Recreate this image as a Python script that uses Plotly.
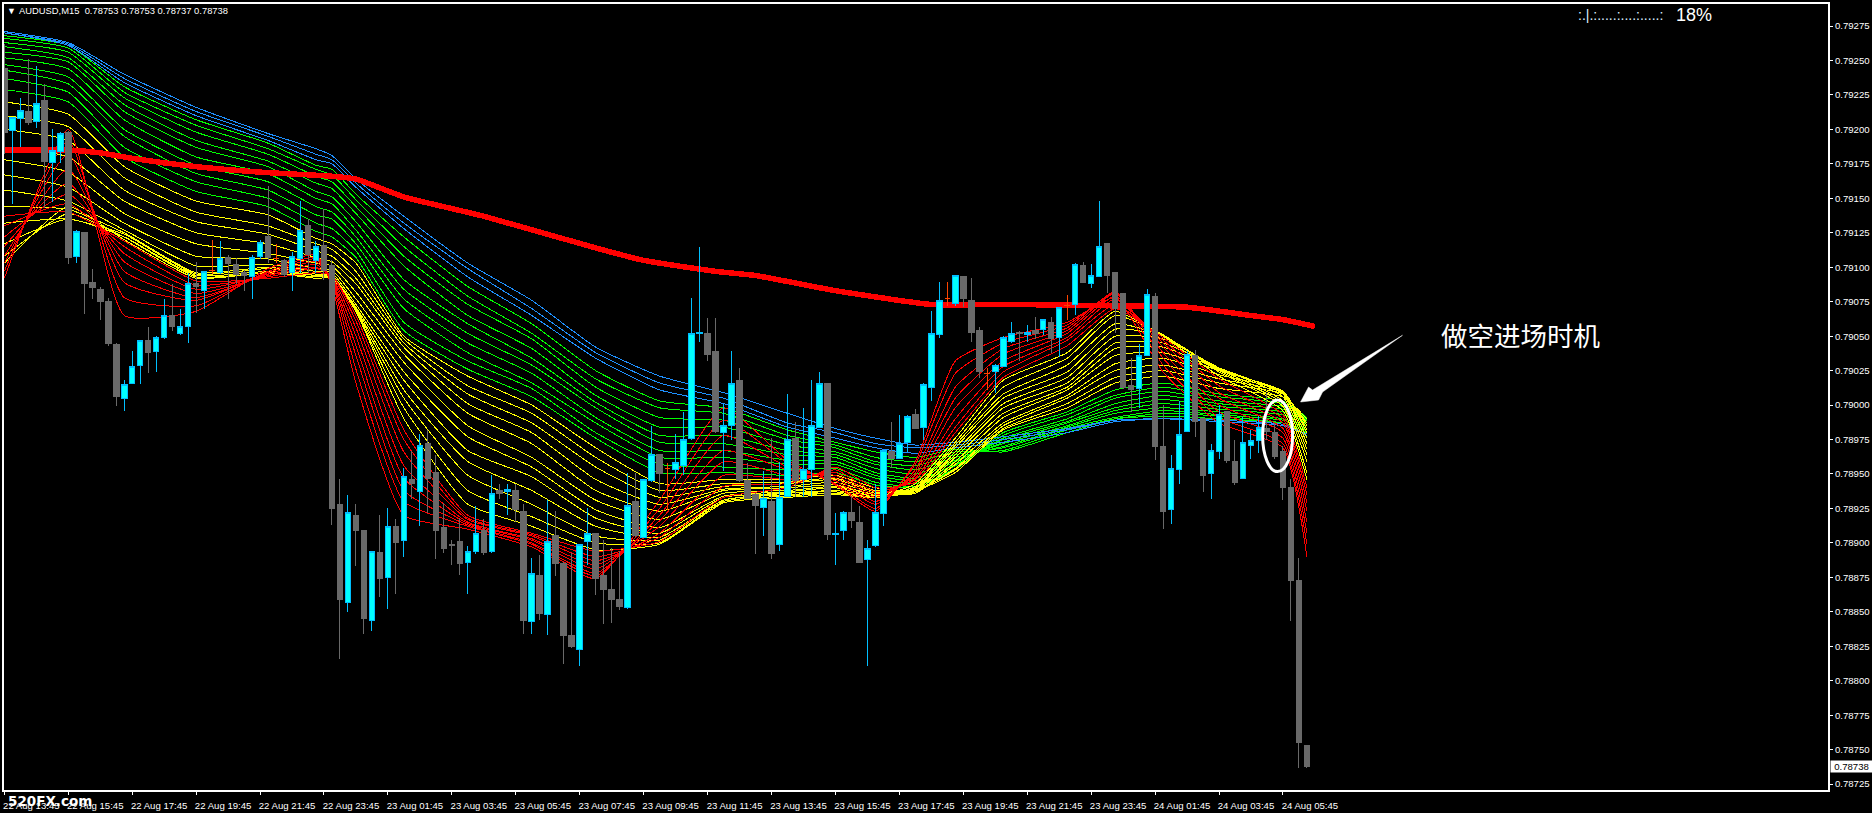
import plotly.graph_objects as go

# Price readings in points (1 point = 0.00001)
HIGH = [79262,79209,79223,79251,79246,79233,79200,79198,79199,79127,79125,79099,79086,79078,79045,79018,79039,79047,79057,79050,
79077,79088,79070,79096,79104,79097,79120,79119,79109,79107,79098,79109,79120,79159,79117,79106,79111,79148,79135,79119,
79142,79105,78946,78935,78928,78909,78894,78920,78925,78917,78954,78967,78979,78982,78964,78929,78902,78918,78898,78927,
78917,78949,78943,78943,78943,78928,78889,78891,78931,78923,78886,78893,78899,78925,78907,78902,78896,78894,78951,78951,
78946,78985,78964,78958,78979,78995,79078,79115,79063,79063,79001,79039,79027,78958,78936,78952,78976,78959,79008,78988,
78998,79018,79024,79016,78922,78923,78934,78927,78902,78943,78967,78988,78993,78993,78997,79016,79068,79089,79089,79094,
79094,79092,79057,79027,79030,79050,79060,79054,79058,79064,79062,79064,79071,79080,79103,79104,79102,79148,79117,79096,
79081,79034,79044,79084,79081,79000,78964,79003,79039,79040,78990,78972,79000,78995,78975,78991,78982,78992,79009,78987,
78970,78946,78889,78753]
OPEN = [79244,79199,79208,79213,79206,79221,79176,79184,79198,79108,79125,79089,79084,79075,79044,79005,79016,79029,79047,79039,
79049,79065,79052,79057,79088,79083,79098,79096,79107,79102,79096,79093,79108,79122,79106,79105,79096,79106,79130,79105,
79116,79101,78928,78857,78920,78909,78844,78893,78875,78912,78902,78946,78937,78972,78951,78911,78899,78901,78886,78894,
78909,78894,78938,78937,78938,78923,78843,78876,78848,78905,78885,78833,78823,78901,78907,78876,78866,78859,78853,78930,
78904,78945,78964,78954,78953,78956,78976,79052,79052,79039,78980,78985,79018,78945,78935,78926,78930,78899,78934,78976,
78946,78953,78984,79016,78906,78909,78922,78915,78888,78898,78921,78966,78961,78973,78993,78984,79013,79051,79077,79074,
79093,79076,79054,79023,79024,79028,79046,79053,79051,79054,79055,79060,79049,79072,79073,79101,79088,79093,79117,79096,
79081,79014,79012,79036,79079,78970,78924,78953,78981,79036,78990,78950,78966,78995,78959,78947,78971,78974,78983,78980,
78966,78940,78873,78753]
CLOSE = [79198,79209,79214,79205,79219,79177,79185,79197,79107,79126,79088,79085,79075,79045,79006,79015,79028,79047,79038,79049,
79065,79057,79057,79088,79086,79097,79098,79106,79103,79095,79094,79107,79118,79107,79106,79095,79108,79127,79109,79115,
79098,78925,78859,78922,78909,78845,78894,78874,78912,78900,78948,78943,78971,78947,78909,78896,78898,78885,78894,78907,
78893,78936,78936,78939,78924,78844,78878,78849,78901,78885,78833,78825,78899,78907,78874,78866,78859,78854,78927,78905,
78946,78964,78950,78954,78958,78975,79052,79053,79037,78981,78985,79016,78945,78932,78927,78932,78892,78933,78975,78945,
78953,78985,79016,78906,78907,78922,78916,78886,78896,78922,78967,78961,78972,78992,78983,79015,79052,79076,79077,79094,
79077,79053,79024,79023,79029,79049,79052,79052,79053,79052,79062,79048,79071,79072,79102,79089,79094,79115,79094,79070,
79013,79011,79036,79080,78970,78923,78954,78979,79037,78988,78949,78967,78993,78960,78944,78973,78974,78984,78981,78963,
78940,78873,78755,78738]
LOW = [79182,79146,79187,79203,79201,79143,79147,79176,79102,79103,79066,79077,79062,79043,78999,78996,79015,79015,79023,79024,
79048,79054,79051,79045,79067,79070,79095,79095,79077,79088,79083,79077,79106,79103,79103,79093,79083,79096,79096,79096,
79091,78913,78816,78850,78883,78834,78836,78861,78852,78863,78890,78932,78912,78922,78888,78893,78884,78877,78863,78892,
78891,78893,78932,78920,78915,78834,78834,78844,78833,78876,78812,78824,78811,78884,78862,78841,78842,78851,78852,78904,
78904,78944,78936,78924,78946,78949,78975,79046,79032,78980,78952,78975,78944,78932,78892,78905,78888,78894,78934,78933,
78933,78933,78983,78902,78884,78902,78911,78886,78811,78897,78912,78954,78961,78966,78983,78975,79003,79049,79072,79072,
79071,79046,79020,79011,79009,79028,79045,79032,79046,79048,79051,79038,79035,79062,79065,79089,79085,79093,79081,79052,
79012,78995,78998,79036,78960,78910,78914,78943,78981,78977,78937,78932,78961,78958,78942,78947,78961,78965,78975,78961,
78931,78843,78737,78737]

RIBBON_BARS = [0,8,15,24,33,39,41,44,50,58,66,74,82,90,98,104,109,114,119,125,133,139,145,152,160,163]
GREEN_LINES = [
[79229,79220,79180,79155,79144,79126,79122,79107,79054,79026,79006,78976,78951,78951,78949,78951,78942,78940,78953,78980,78995,79011,79016,79008,79003,78991],
[79237,79227,79187,79162,79150,79132,79128,79112,79060,79032,79012,78980,78957,78955,78953,78954,78944,78941,78954,78978,78993,79007,79013,79006,79001,78990],
[79243,79233,79195,79168,79156,79138,79135,79117,79070,79038,79016,78987,78962,78962,78957,78957,78947,78943,78956,78976,78990,79005,79010,79003,78999,78990],
[79247,79238,79200,79174,79162,79144,79140,79122,79077,79045,79023,78991,78967,78967,78960,78959,78949,78945,78957,78975,78988,79001,79007,79001,78997,78989],
[79252,79244,79207,79180,79168,79150,79146,79127,79084,79052,79029,78998,78973,78972,78964,78962,78951,78947,78959,78973,78987,78998,79004,78999,78995,78987],
[79256,79249,79213,79187,79173,79155,79151,79133,79091,79059,79034,79002,78978,78978,78967,78964,78954,78950,78960,78972,78985,78996,79001,78997,78993,78986],
[79260,79252,79218,79192,79177,79161,79157,79139,79101,79065,79041,79007,78984,78984,78971,78966,78957,78953,78962,78970,78984,78994,78998,78995,78990,78985],
[79263,79256,79223,79198,79182,79166,79162,79144,79108,79073,79048,79013,78991,78989,78975,78969,78959,78956,78964,78969,78983,78991,78996,78993,78989,78983],
[79266,79259,79227,79203,79186,79171,79167,79149,79115,79079,79052,79019,78998,78994,78978,78971,78962,78959,78966,78967,78982,78990,78994,78992,78987,78982],
[79268,79261,79231,79207,79190,79174,79171,79153,79122,79086,79059,79025,79003,78998,78982,78973,78966,78962,78968,78966,78980,78990,78992,78990,78987,78980],
]
BLUE_LINES = [
[79270,79261,79234,79210,79192,79178,79175,79158,79128,79093,79065,79034,79011,79001,78984,78976,78969,78965,78969,78973,78980,78988,78990,78988,78985,78979],
[79270,79262,79237,79213,79195,79182,79178,79161,79132,79099,79070,79038,79016,79005,78987,78980,78972,78969,78971,78975,78982,78989,78990,78989,78986,78979],
[79271,79263,79240,79216,79197,79186,79181,79164,79137,79103,79076,79042,79021,79009,78994,78983,78976,78971,78973,78977,78983,78989,78990,78989,78986,78978],
]
YELLOW_LINES = [
[79103,79144,79120,79092,79096,79092,79092,79068,78990,78928,78912,78895,78899,78929,78933,78935,78933,78943,78976,79018,79038,79068,79050,79021,78996,78946],
[79108,79139,79122,79093,79096,79093,79093,79068,78998,78938,78919,78900,78900,78930,78934,78936,78933,78941,78973,79013,79034,79065,79051,79024,78999,78951],
[79117,79135,79122,79094,79097,79094,79093,79069,79005,78949,78928,78905,78902,78931,78935,78936,78933,78940,78971,79008,79029,79059,79050,79025,79001,78959],
[79132,79135,79124,79095,79099,79094,79094,79070,79011,78959,78938,78912,78904,78931,78936,78937,78933,78939,78969,79005,79024,79055,79050,79026,79003,78964],
[79144,79142,79125,79096,79100,79095,79094,79071,79018,78967,78948,78918,78907,78933,78936,78938,78934,78938,78966,79001,79020,79050,79048,79027,79006,78968],
[79156,79148,79127,79101,79102,79097,79096,79073,79024,78977,78955,78924,78911,78934,78937,78940,78934,78938,78964,78998,79016,79045,79045,79027,79008,78972],
[79167,79158,79132,79108,79106,79099,79098,79077,79031,78985,78962,78931,78917,78936,78938,78941,78935,78937,78962,78994,79013,79041,79042,79026,79009,78976],
[79178,79169,79139,79117,79110,79103,79101,79082,79037,78994,78972,78938,78923,78938,78940,78942,78935,78936,78959,78991,79011,79036,79038,79025,79010,78980],
[79187,79180,79148,79125,79117,79107,79104,79088,79042,79001,78980,78946,78928,78939,78941,78944,78936,78936,78957,78987,79007,79030,79034,79022,79010,78982],
[79200,79192,79156,79133,79124,79112,79108,79092,79045,79008,78987,78955,78933,78941,78943,78946,78937,78937,78954,78985,79005,79025,79029,79019,79009,78985],
[79210,79202,79165,79140,79130,79117,79113,79097,79048,79014,78994,78962,78938,78943,78944,78947,78938,78938,78953,78983,79001,79020,79025,79016,79008,78987],
[79220,79211,79173,79148,79138,79121,79117,79103,79050,79021,79000,78969,78943,78946,78946,78949,78940,78938,78951,78982,78998,79016,79021,79012,79006,78990],
]
RED_LINES = [
[79092,79200,79065,79068,79099,79109,79086,79016,78920,78910,78897,78874,78931,78998,78960,78942,78923,78959,79032,79049,79060,79078,79024,78987,78969,78890],
[79097,79192,79078,79072,79097,79107,79089,79026,78930,78912,78899,78876,78925,78989,78958,78943,78925,78957,79023,79045,79058,79081,79029,78991,78972,78899],
[79103,79182,79089,79076,79096,79106,79090,79036,78938,78913,78900,78878,78920,78978,78955,78945,78928,78953,79013,79041,79056,79082,79034,78995,78976,78907],
[79108,79171,79097,79078,79095,79104,79091,79043,78947,78914,78902,78881,78916,78967,78953,78947,78930,78951,79005,79037,79054,79081,79038,79000,78980,78915],
[79115,79161,79104,79081,79094,79102,79092,79050,78956,78915,78903,78884,78912,78959,78949,78949,78933,78949,78998,79032,79052,79079,79042,79005,78983,78923],
[79122,79153,79110,79084,79094,79100,79093,79056,78966,78917,78905,78887,78907,78949,78946,78951,78935,78947,78990,79028,79049,79077,79045,79009,78987,78929],
[79130,79146,79115,79087,79093,79099,79094,79061,78975,78918,78906,78890,78904,78941,78943,78953,78937,78946,78984,79024,79047,79073,79047,79014,78990,78935],
[79137,79140,79119,79090,79092,79096,79094,79065,78982,78920,78907,78894,78901,78933,78940,78955,78940,78944,78980,79020,79043,79070,79049,79019,78993,78940],
]
SLOW_MA_BARS = [0,8,12,16,24,32,41,44,50,60,74,80,89,94,104,116,126,139,148,156,160,164]
SLOW_MA = [79185,79185,79183,79179,79173,79169,79166,79164,79151,79137,79114,79105,79097,79094,79083,79073,79073,79072,79071,79065,79062,79057]

TICK_BARS = list(range(0, 161, 8))
TICK_LABELS = ["22 Aug 13:45","22 Aug 15:45","22 Aug 17:45","22 Aug 19:45","22 Aug 21:45","22 Aug 23:45","23 Aug 01:45",
"23 Aug 03:45","23 Aug 05:45","23 Aug 07:45","23 Aug 09:45","23 Aug 11:45","23 Aug 13:45","23 Aug 15:45","23 Aug 17:45",
"23 Aug 19:45","23 Aug 21:45","23 Aug 23:45","24 Aug 01:45","24 Aug 03:45","24 Aug 05:45"]

W, H = 1872, 813
L, R, T, B = 2, 1828, 2, 792
XRANGE = [(L - 2.33) / 8, (R - 2.33) / 8]
YRANGE = [0.787207, 0.79291]
UI = "Liberation Sans"

def px(v):
    return (v - L) / (R - L)
def py(v):
    return (B - v) / (B - T)

fig = go.Figure()
def price(a):
    return [v / 1e5 for v in a]

for group, color in ((GREEN_LINES, "#00FF00"), (BLUE_LINES, "#1E90FF"), (YELLOW_LINES, "#FFFF00"), (RED_LINES, "#FF0000")):
    for line in group:
        fig.add_trace(go.Scatter(x=RIBBON_BARS, y=price(line), mode="lines", hoverinfo="skip",
                                 line=dict(color=color, width=1, shape="spline", smoothing=0.5)))
fig.add_trace(go.Scatter(x=SLOW_MA_BARS, y=price(SLOW_MA), mode="lines", hoverinfo="skip",
                         line=dict(color="#FF0000", width=5.5, shape="spline", smoothing=0.5)))

body = [i for i in range(len(OPEN)) if OPEN[i] != CLOSE[i]]
doji = [i for i in range(len(OPEN)) if OPEN[i] == CLOSE[i]]
def pick(a, idx):
    return [a[i] / 1e5 for i in idx]

fig.add_trace(go.Candlestick(x=body, open=pick(OPEN, body), high=pick(HIGH, body), low=pick(LOW, body), close=pick(CLOSE, body),
    xaxis="x2", yaxis="y2", whiskerwidth=0,
    increasing=dict(line=dict(color="#00BFFF", width=1), fillcolor="#00FFFF"),
    decreasing=dict(line=dict(color="#696969", width=1), fillcolor="#696969")))
fig.add_trace(go.Candlestick(x=doji, open=pick(OPEN, doji), high=pick(HIGH, doji), low=pick(LOW, doji), close=pick(CLOSE, doji),
    xaxis="x2", yaxis="y2", whiskerwidth=0,
    increasing=dict(line=dict(color="#FF4500", width=1), fillcolor="#FF4500"),
    decreasing=dict(line=dict(color="#FF4500", width=1), fillcolor="#FF4500")))

def note(x, y, text, size, color="#FFFFFF", anchor="left", family=UI, **kw):
    fig.add_annotation(xref="paper", yref="paper", x=px(x), y=py(y), text=text, showarrow=False,
                       xanchor=anchor, yanchor="middle", font=dict(size=size, color=color, family=family),
                       borderpad=0, **kw)

note(4, 9, "▼", 9)
note(16, 9, "AUDUSD,M15&nbsp;&nbsp;0.78753 0.78753 0.78737 0.78738", 9.4)
note(1577, 13, ":.|.:.....:....:.....:", 14, color="#DDEEFF")
note(1675, 13, "18%", 18, color="#FFFFFF")
note(1440, 334, "做空进场时机", 26.5, family="Noto Sans CJK SC")
note(5, 803, "<b>520FX.com</b>", 13.5, family="DejaVu Sans")
fig.add_annotation(xref="paper", yref="y", x=px(1830.5), y=CLOSE[-1] / 1e5, text="0.78738", showarrow=False,
                   xanchor="left", yanchor="middle", font=dict(size=9.6, color="#000000", family=UI),
                   bgcolor="#FFFFFF", borderpad=0, width=41, height=11)

# entry marker: ellipse and arrow, placed in paper space
fig.add_shape(type="circle", xref="paper", yref="paper", x0=px(1262), x1=px(1292), y0=py(400), y1=py(472),
              line=dict(color="#FFFFFF", width=3))
arrow = [(1300, 402), (1308, 387), (1312, 390), (1402, 335), (1322, 392), (1318, 400)]
path = "M " + " L ".join(f"{px(a):.5f},{py(b):.5f}" for a, b in arrow) + " Z"
fig.add_shape(type="path", xref="paper", yref="paper", path=path, fillcolor="#FFFFFF", line=dict(color="#FFFFFF", width=0.5))

axis_common = dict(showgrid=False, zeroline=False, showline=True, linecolor="#FFFFFF", linewidth=2, mirror=True,
                   ticks="outside", tickcolor="#FFFFFF", tickwidth=1, ticklen=3,
                   tickfont=dict(color="#FFFFFF", size=9.6, family=UI))
fig.update_layout(
    width=W, height=H, autosize=False, showlegend=False, paper_bgcolor="#000000", plot_bgcolor="#000000",
    margin=dict(l=L, r=W - R, t=T, b=H - B), boxgap=0.3, boxgroupgap=0,
    xaxis=dict(range=XRANGE, tickmode="array", tickvals=TICK_BARS, ticktext=TICK_LABELS, ticklabelshift=27,
               ticklabelstandoff=2, tickangle=0, fixedrange=True, **axis_common),
    yaxis=dict(range=YRANGE, side="right", tick0=0.79, dtick=0.00025, tickformat=".5f", fixedrange=True, **axis_common),
    xaxis2=dict(range=XRANGE, overlaying="x", visible=False, fixedrange=True, rangeslider=dict(visible=False)),
    yaxis2=dict(range=YRANGE, overlaying="y", visible=False, fixedrange=True),
)
POST = ("document.body.style.margin='0';document.body.style.background='#000';"
        "document.documentElement.style.overflow='hidden';"
        "var s=document.createElement('style');"
        "s.textContent='.scatterlayer path.js-line,.boxlayer path{shape-rendering:crispEdges}';"
        "document.head.appendChild(s);")
fig.write_html("out.html", config=dict(displayModeBar=False), post_script=POST)
